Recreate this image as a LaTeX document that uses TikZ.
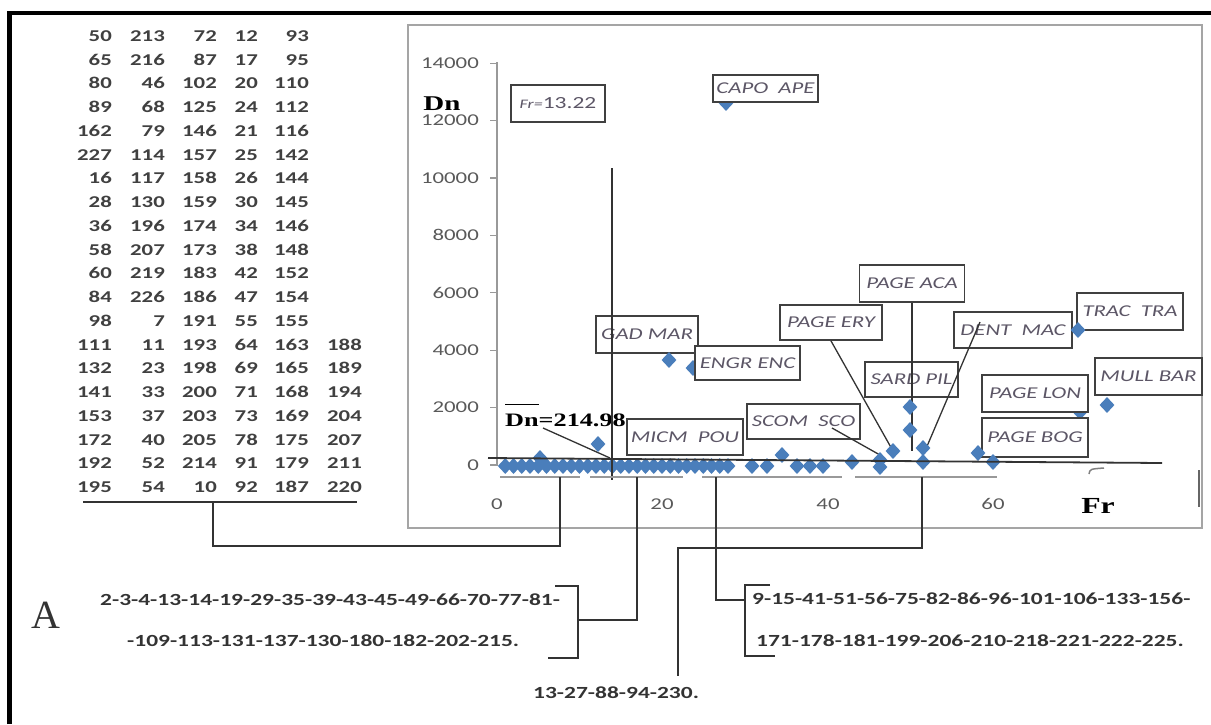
\documentclass[tikz,border=0pt]{standalone}
\usepackage{fontspec}
\usetikzlibrary{shapes.geometric}
\newfontfamily\numfont[FakeStretch=1.38]{Carlito}
\newfontfamily\serfont[FakeStretch=1.38]{Liberation Serif}
\newfontfamily\afont{Liberation Serif}
\definecolor{ptblue}{RGB}{74,126,187}
\definecolor{lblgray}{RGB}{92,86,102}
\definecolor{axgray}{RGB}{89,89,89}
\definecolor{framegray}{RGB}{165,165,165}
\begin{document}
\begin{tikzpicture}[x=1pt,y=-1pt,
    tab/.style={font=\numfont\bfseries\fontsize{16.5}{16.5}\selectfont,text=black!75,inner sep=0,anchor=base east},
    tick/.style={font=\numfont\fontsize{16.5}{16.5}\selectfont,text=axgray,inner sep=0},
    lbl/.style={draw=black!75,line width=1.8pt,fill=white,font=\numfont\itshape\fontsize{16.5}{16.5}\selectfont,
      text=lblgray,inner sep=0,minimum height=36},
    pt/.style={diamond,fill=ptblue,inner sep=0,minimum width=15,minimum height=16},
    seq/.style={font=\numfont\bfseries\fontsize{17}{17}\selectfont,text=black!80,inner sep=0,anchor=base west},
    link/.style={black!80,line width=1.6pt},
    grp/.style={black!40,line width=2pt}]
  \useasboundingbox (0,0) rectangle (1211,724);
  \draw[line width=4.5pt] (9.5,724) -- (9.5,13) -- (1211,13);
  \draw[framegray,line width=2pt] (408,25) rectangle (1202,528);

  \foreach \row [count=\r] in {{50,213,72,12,93},{65,216,87,17,95},{80,46,102,20,110},
      {89,68,125,24,112},{162,79,146,21,116},{227,114,157,25,142},{16,117,158,26,144},
      {28,130,159,30,145},{36,196,174,34,146},{58,207,173,38,148},{60,219,183,42,152},
      {84,226,186,47,154},{98,7,191,55,155},{111,11,193,64,163,188},{132,23,198,69,165,189},
      {141,33,200,71,168,194},{153,37,203,73,169,204},{172,40,205,78,175,207},
      {192,52,214,91,179,211},{195,54,10,92,187,220}} {
    \foreach \v [count=\c] in \row {
      \pgfmathsetmacro\cx{{112,165,217,258,309,362}[\c-1]}
      \node[tab] (t\r-\c) at (\cx,17.5+23.75*\r) {\v};
    }
  }
  \coordinate (tabbar-w) at (83,502);
  \coordinate (tabbar-e) at (357,502);
  \coordinate (tabdrop) at (213,502);
  \draw[link] (tabbar-w) -- (tabbar-e);

  % axes
  \draw[black!40,line width=1.2pt] (497,62) -- (497,466);
  \foreach \v [count=\k] in {0,2000,...,14000} {
    \draw[black!40,line width=1.2pt] (490,465-57.4*\k+57.4) -- (497,465-57.4*\k+57.4);
    \node[tick,anchor=east] (y\v) at (479,465-57.4*\k+57.4) {\v};
  }
  \foreach \v/\xx in {0/497,20/662,40/828,60/993}
    \node[tick] (x\v) at (\xx,504) {\v};
  \node[font=\serfont\bfseries\fontsize{21}{21}\selectfont,inner sep=0] (dnaxis) at (442,104) {Dn};
  \node[font=\serfont\bfseries\fontsize{23}{23}\selectfont,inner sep=0] (fraxis) at (1098,506) {Fr};

  % points hidden under the labels
  \node[pt] (capo-p) at (726,103) {};
  \node[pt] (engr-p) at (693,368) {};
  \node[pt] (lon-p) at (1080,412) {};

  \node[lbl,minimum width=94,minimum height=37] (frlbl) at (558,103.5)
    {{\fontsize{13}{13}\selectfont Fr=}{\upshape\fontsize{17}{17}\selectfont 13.22}};
  \node[lbl,minimum width=105,minimum height=27] (capo) at (765.5,88.5) {CAPO\ \ APE};
  \node[lbl,minimum width=102,minimum height=37] (gad) at (647,334.5) {GAD MAR};
  \node[lbl,minimum width=105,minimum height=34] (engr) at (747.5,363) {ENGR ENC};
  \node[lbl,minimum width=116] (micm) at (685,437) {MICM\ \ POU};
  \node[lbl,minimum width=113,minimum height=35] (scom) at (803.5,421.5) {SCOM\ \ SCO};
  \node[lbl,minimum width=102,minimum height=35] (ery) at (831,322.5) {PAGE ERY};
  \node[lbl,minimum width=105,minimum height=37] (aca) at (912,283.5) {PAGE ACA};
  \node[lbl,minimum width=118] (dent) at (1013,330) {DENT\ \ MAC};
  \node[lbl,minimum width=106,minimum height=37] (trac) at (1130,311.5) {TRAC\ \ TRA};
  \node[lbl,minimum width=93,minimum height=35] (sard) at (911.5,379.5) {SARD PIL};
  \node[lbl,minimum width=106,minimum height=37] (lon) at (1035,393.5) {PAGE LON};
  \node[lbl,minimum width=107,minimum height=37] (mull) at (1148.5,376.5) {MULL BAR};
  \node[lbl,minimum width=106,minimum height=39] (bog) at (1035,437.5) {PAGE BOG};

  \node[font=\serfont\bfseries\fontsize{19}{19}\selectfont,inner sep=0,anchor=base west] (dnlbl) at (505,426)
    {\rlap{\raisebox{21pt}{\rule{34pt}{1.2pt}}}Dn=214.98};

  % pointers
  \coordinate (aca-end) at (912,451);
  \coordinate (dent-tip) at (980,322);
  \coordinate (dent-end) at (925,451);
  \coordinate (scom-tip) at (832,428);
  \coordinate (scom-end) at (880,455);
  \coordinate (dn-tip) at (543,428);
  \coordinate (dn-end) at (610,458);
  \coordinate (ery-end) at (893,451);
  \draw[link,line width=1.3pt] (ery.south) -- (ery-end);
  \draw[link,line width=1.3pt] (aca.south) -- (aca-end);
  \draw[link,line width=1.3pt] (dent-tip) -- (dent-end);
  \draw[link,line width=1.3pt] (scom-tip) -- (scom-end);
  \draw[link,line width=1.3pt] (dn-tip) -- (dn-end);

  % data points
  \foreach \f in {1,...,28}
    \node[pt] (b\f) at (497+8.25*\f,466) {};
  \foreach \px/\py [count=\k] in {752/466,767/466,782/455,797/466,810/466,823/466,852/462,
      880/460,880/467,893/451,910/407,910/430,923/448,923/462,978/453,993/462,598/444,
      540/458,669/360,1078/330,1107/405}
    \node[pt] (p\k) at (\px,\py) {};

  \coordinate (mean-w) at (488,458);
  \coordinate (mean-e) at (1162,463);
  \draw[link,line width=1.8pt] (mean-w) -- (mean-e);
  \coordinate (fr-top) at (612,168);
  \coordinate (fr-bot) at (612,480);
  \draw[link] (fr-top) -- (fr-bot);
  \draw[black!50,line width=1.5pt] (1089,474) .. controls (1090,469) .. (1104,468);
  \draw[black!60,line width=2pt] (1199,470) -- (1199,507);

  % groups
  \draw[grp] (500,477) coordinate (ga-w) -- (580,477) coordinate (ga-e);
  \draw[grp] (590,477) coordinate (gb-w) -- (683,477) coordinate (gb-e);
  \draw[grp] (702,477) coordinate (gc-w) -- (842,477) coordinate (gc-e);
  \draw[grp] (855,477) coordinate (gd-w) -- (997,477) coordinate (gd-e);
  \coordinate (ga-drop) at (560,477);
  \coordinate (gb-drop) at (637,477);
  \coordinate (gc-drop) at (716,477);
  \coordinate (gd-drop) at (922,477);
  \coordinate (jA) at (213,546);
  \coordinate (jD) at (678,548);
  \coordinate (dEnd) at (678,676);
  \coordinate (brL-mid) at (578,620);
  \coordinate (brR-mid) at (745,600);
  \draw[link] (tabdrop) -- (jA) -| (ga-drop);
  \draw[link] (gb-drop) |- (brL-mid);
  \draw[link] (gc-drop) |- (brR-mid);
  \draw[link] (gd-drop) |- (jD) -- (dEnd);
  \draw[link] (555,586) -- (578,586) -- (578,658) -- (548,658);
  \draw[link] (770,585) -- (745,585) -- (745,656) -- (775,656);

  \node[seq] (sqL1) at (100,605) {2-3-4-13-14-19-29-35-39-43-45-49-66-70-77-81-};
  \node[seq] (sqL2) at (127,646) {-109-113-131-137-130-180-182-202-215.};
  \node[seq] (sqM) at (533,698) {13-27-88-94-230.};
  \node[seq] (sqR1) at (752,604) {9-15-41-51-56-75-82-86-96-101-106-133-156-};
  \node[seq] (sqR2) at (756,646) {171-178-181-199-206-210-218-221-222-225.};
  \node[font=\afont\fontsize{40}{40}\selectfont,text=black!80,inner sep=0] (alabel) at (46,615) {A};
\end{tikzpicture}
\end{document}
